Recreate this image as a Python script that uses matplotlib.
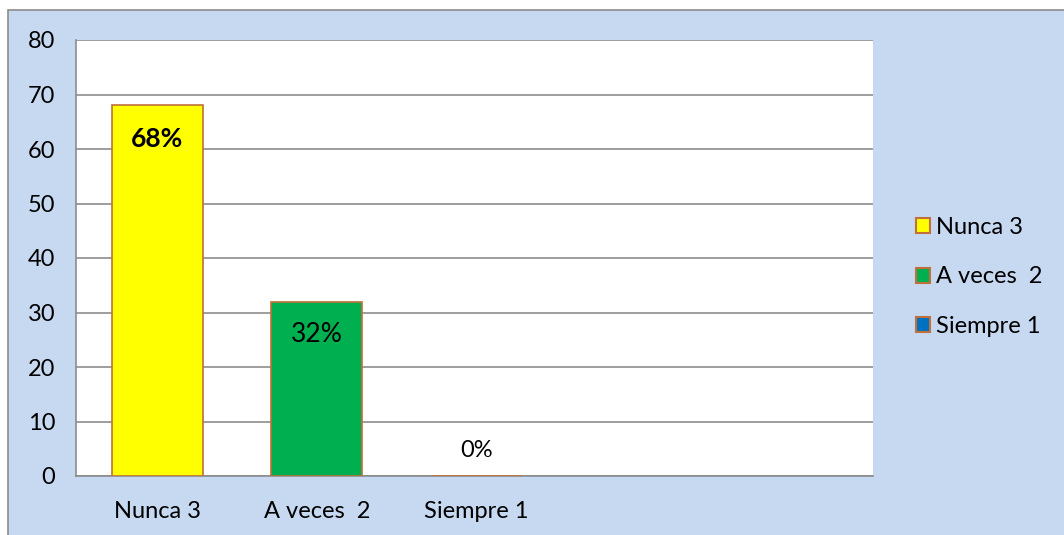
import matplotlib.pyplot as plt
from matplotlib.patches import Rectangle, Patch

categories = ['Nunca 3', 'A veces  2', 'Siempre 1']
values = [68, 32, 0]
percent_labels = ['68%', '32%', '0%']
colors = ['#FFFF00', '#00B050', '#0070C0']
edge = '#C0703A'

plt.rcParams['font.family'] = ['Lato', 'DejaVu Sans']

fig = plt.figure(figsize=(10.64, 5.35), dpi=100)
fig.patch.set_facecolor('white')
# tło wykresu (obszar Excela)
fig.patches.append(Rectangle((8 / 1064, -0.02), 1.1, 1 - 10 / 535 + 0.02,
                             transform=fig.transFigure, facecolor='#C6D9F1',
                             edgecolor='#8C8C8C', linewidth=1.2, zorder=-10))

ax = fig.add_axes([76 / 1064, 1 - 476 / 535, 797 / 1064, 436 / 535])
ax.set_zorder(1)
ax.set_facecolor('white')

x = list(range(len(categories)))
bars = ax.bar(x, values, width=0.57, color=colors, edgecolor=edge,
              linewidth=1.2, zorder=3)

ax.set_xlim(-0.51, 4.49)
ax.set_ylim(0, 80)
ax.set_yticks(range(0, 81, 10))
ax.set_xticks(x)
ax.set_xticklabels(categories)
ax.tick_params(axis='both', length=0, labelsize=17, colors='black')
ax.tick_params(axis='y', pad=15)
ax.tick_params(axis='x', pad=18)
ax.yaxis.grid(True, color='#8C8C8C', linewidth=1.2, zorder=0)

for s in ['top', 'right']:
    ax.spines[s].set_visible(False)
for s in ['left', 'bottom']:
    ax.spines[s].set_color('#8C8C8C')
    ax.spines[s].set_linewidth(1.2)

# etykiety procentowe
ax.text(0, 61.8, percent_labels[0], ha='center', va='center', fontsize=19,
        fontweight='bold', zorder=4)
ax.text(1, 26, percent_labels[1], ha='center', va='center', fontsize=19, zorder=4)
ax.text(2, 4.6, percent_labels[2], ha='center', va='center', fontsize=17, zorder=4)

handles = [Patch(facecolor=c, edgecolor=edge, linewidth=1.5) for c in colors]
fig.legend(handles, categories, loc='center left',
           bbox_to_anchor=(895 / 1064, 1 - 277 / 535), frameon=False,
           fontsize=17, handlelength=0.6, handleheight=0.6,
           handletextpad=0.25, labelspacing=1.2)

fig.savefig('out.png', dpi=100)
